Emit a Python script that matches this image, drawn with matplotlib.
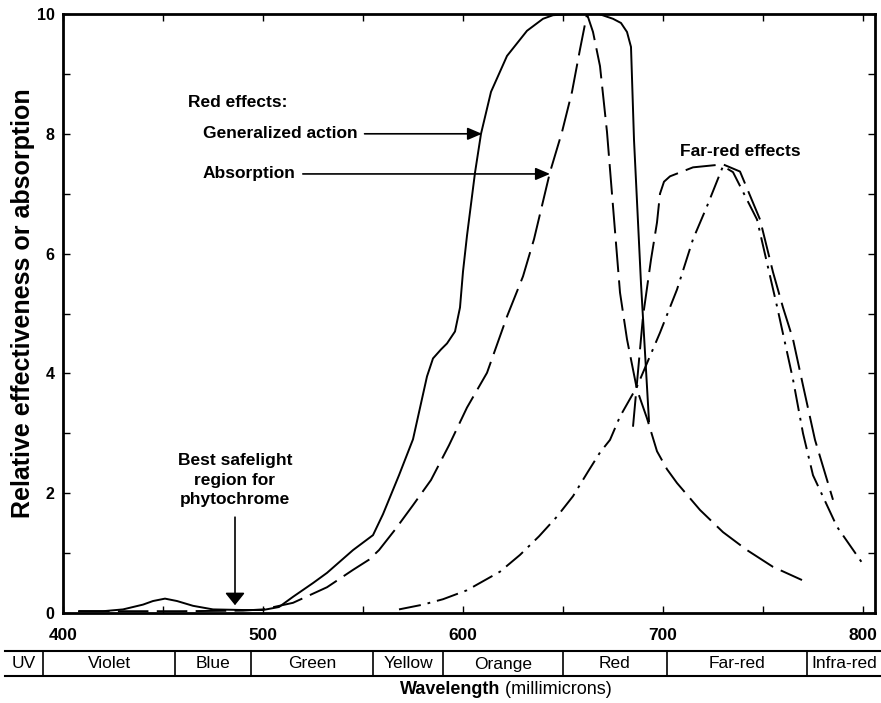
import matplotlib
matplotlib.use("Agg")
import matplotlib.pyplot as plt
from matplotlib.transforms import blended_transform_factory

plt.rcParams['font.family'] = ['Liberation Sans', 'DejaVu Sans']
plt.rcParams['lines.scale_dashes'] = False

# Red effects: generalized action (solid line)
action_nm = [408, 420, 430, 440, 445, 451, 457, 465, 475, 490, 500, 508, 515, 525,
             532, 545, 555, 560, 568, 575, 579, 582, 585, 589, 592, 596, 598.5, 600,
             602, 606, 609, 614, 622, 632, 640, 645, 655, 668, 675, 679, 682, 684,
             685.5, 689, 693]
action_val = [0.03, 0.03, 0.06, 0.14, 0.2, 0.24, 0.2, 0.12, 0.06, 0.05, 0.05, 0.1, 0.27, 0.5,
              0.67, 1.05, 1.3, 1.65, 2.3, 2.9, 3.5, 3.95, 4.25, 4.4, 4.5, 4.7, 5.1, 5.7,
              6.3, 7.35, 8.0, 8.7, 9.3, 9.72, 9.92, 9.98, 10.0, 10.0, 9.92, 9.85, 9.7, 9.45,
              7.9, 5.5, 3.2]

# Red effects: absorption (long dashes)
red_abs_nm = [408, 430, 460, 490, 500, 515, 532, 545, 553, 558, 566, 575, 584, 593, 602,
              612, 622, 630, 635.5, 643.5, 649.5, 654.5, 658.5, 662, 665, 668.5, 672, 675,
              678.5, 682, 687, 692, 697, 702, 707, 718.5, 730, 742, 755, 769.5]
red_abs_val = [0.03, 0.03, 0.03, 0.04, 0.06, 0.17, 0.43, 0.72, 0.89, 1.05, 1.39, 1.8, 2.22,
               2.8, 3.43, 4.01, 4.95, 5.62, 6.24, 7.36, 8.03, 8.7, 9.41, 10.0, 9.7, 9.13,
               8.03, 6.79, 5.35, 4.57, 3.73, 3.25, 2.7, 2.4, 2.17, 1.72, 1.35, 1.05, 0.77, 0.55]

# Far-red effects: action (dashes)
fr_act_nm = [685, 690, 694, 697, 698.5, 700.5, 703.5, 715, 730, 738.5, 748.5, 755, 760,
             765, 770, 776, 785]
fr_act_val = [3.11, 4.95, 5.9, 6.52, 7.0, 7.2, 7.29, 7.44, 7.49, 7.37, 6.57, 5.69, 5.1,
              4.57, 3.8, 2.89, 1.89]

# Far-red effects: absorption (dash-dot)
fr_abs_nm = [568, 580, 590, 602, 618.5, 628.5, 638, 647, 655, 662.5, 668.5, 673.5, 678.5,
             687, 698.5, 707, 715, 722, 730, 735, 747, 757, 765, 770, 775, 787, 799.5]
fr_abs_val = [0.06, 0.14, 0.23, 0.38, 0.69, 0.97, 1.28, 1.61, 1.95, 2.36, 2.68, 2.89, 3.28,
              3.78, 4.68, 5.4, 6.24, 6.79, 7.46, 7.36, 6.57, 5.12, 3.9, 3.0, 2.3, 1.44, 0.84]

# Spectral bands under the axis
band_edges = [371, 390, 456, 494, 555, 590, 650, 702, 772, 809]
band_names = ['UV', 'Violet', 'Blue', 'Green', 'Yellow', 'Orange', 'Red', 'Far-red', 'Infra-red']

fig = plt.figure(figsize=(8.81, 7.03), dpi=100)
ax = fig.add_axes([63 / 881, 1 - 613 / 703, 812 / 881, 599 / 703])

ax.plot(action_nm, action_val, color='black', lw=1.4)
ax.plot(red_abs_nm, red_abs_val, color='black', lw=1.4, dashes=(22, 6))
ax.plot(fr_act_nm, fr_act_val, color='black', lw=1.4, dashes=(22, 6))
ax.plot(fr_abs_nm, fr_abs_val, color='black', lw=1.4, dashes=(16, 5, 2, 5))

ax.set_xlim(400, 806)
ax.set_ylim(0, 10)
ax.set_xticks(range(400, 801, 100))
ax.set_xticks(range(450, 801, 100), minor=True)
ax.set_yticks(range(0, 11, 2))
ax.set_yticks(range(1, 10, 2), minor=True)
ax.tick_params(which='both', direction='in', length=5, width=1, top=True, right=True)
ax.tick_params(axis='x', pad=11, labelsize=12.5)
ax.tick_params(axis='y', pad=6, labelsize=11.5)
for lab in ax.get_xticklabels() + ax.get_yticklabels():
    lab.set_fontweight('bold')
for side in ['left', 'right', 'top', 'bottom']:
    ax.spines[side].set_linewidth(2)

ax.set_ylabel('Relative effectiveness or absorption', fontsize=18, fontweight='bold')
ax.yaxis.set_label_coords(-0.035, 0.517)

# annotations
fs = 12.5
ax.text(462.5, 8.53, 'Red effects:', fontsize=fs, fontweight='bold', va='center')
ax.annotate('Generalized action', xy=(609.5, 8.0), xytext=(470, 8.0), fontsize=fs,
            fontweight='bold', va='center', ha='left',
            arrowprops=dict(arrowstyle='-|>,head_length=0.7,head_width=0.3',
                            color='black', lw=1.2, shrinkA=3, shrinkB=0))
ax.annotate('Absorption', xy=(643.5, 7.33), xytext=(470, 7.33), fontsize=fs,
            fontweight='bold', va='center', ha='left',
            arrowprops=dict(arrowstyle='-|>,head_length=0.7,head_width=0.3',
                            color='black', lw=1.2, shrinkA=3, shrinkB=0))
ax.text(708.5, 7.71, 'Far-red effects', fontsize=fs, fontweight='bold', va='center')
ax.text(486, 2.22, 'Best safelight\nregion for\nphytochrome', fontsize=fs,
        fontweight='bold', ha='center', va='center', linespacing=1.35)
ax.annotate('', xy=(486, 0.13), xytext=(486, 1.6),
            arrowprops=dict(arrowstyle='-|>,head_length=0.75,head_width=0.6',
                            color='black', lw=1.2, shrinkA=0, shrinkB=0))

# wavelength band strip
tr = blended_transform_factory(ax.transData, fig.transFigure)
y_top, y_bot, y_txt = 1 - 651 / 703, 1 - 676 / 703, 1 - 664 / 703
ax.plot([band_edges[0], band_edges[-1]], [y_top, y_top], color='black', lw=1.5,
        transform=tr, clip_on=False)
ax.plot([band_edges[0], band_edges[-1]], [y_bot, y_bot], color='black', lw=1.5,
        transform=tr, clip_on=False)
for e in band_edges[1:-1]:
    ax.plot([e, e], [y_bot, y_top], color='black', lw=1.2, transform=tr, clip_on=False)
for i, name in enumerate(band_names):
    mid = (band_edges[i] + band_edges[i + 1]) / 2
    ax.text(mid, y_txt, name, fontsize=12.5, ha='center', va='center', transform=tr)

fig.text(0.568, 1 - 690 / 703, 'Wavelength', fontsize=13, fontweight='bold',
         ha='right', va='center')
fig.text(0.568, 1 - 690 / 703, ' (millimicrons)', fontsize=13, ha='left', va='center')

fig.savefig('out.png', dpi=100)
